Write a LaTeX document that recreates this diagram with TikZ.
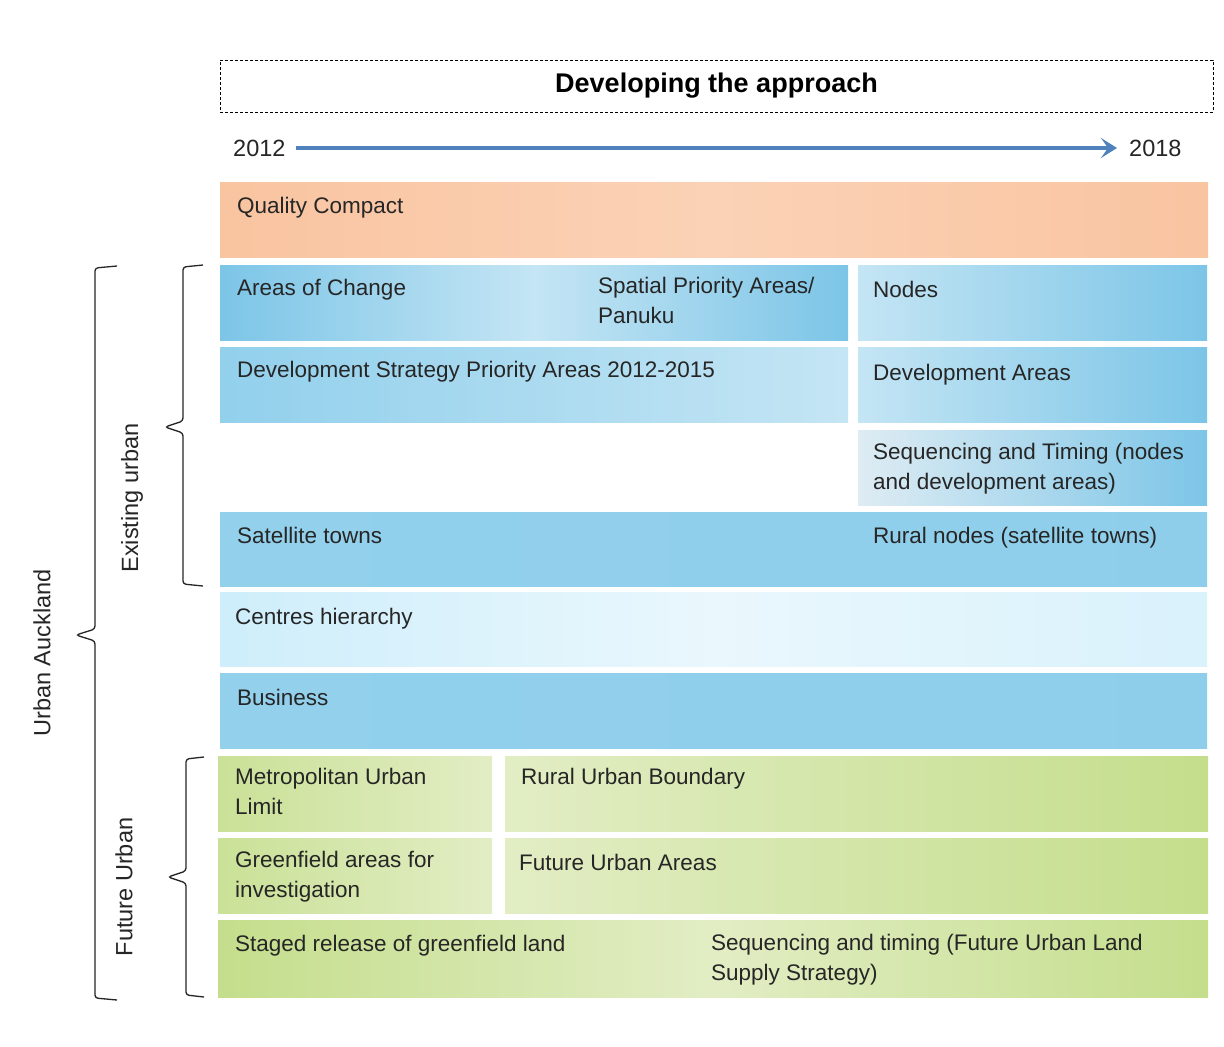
\documentclass[tikz,border=0pt]{standalone}
\usepackage{fontspec}
\setmainfont{Liberation Sans}
\usetikzlibrary{arrows.meta}
\definecolor{peachD}{RGB}{249,196,160}
\definecolor{peachL}{RGB}{251,210,182}
\definecolor{blueD}{RGB}{124,197,231}
\definecolor{blueM}{RGB}{146,208,236}
\definecolor{blueL}{RGB}{196,229,244}
\definecolor{greyL}{RGB}{222,236,243}
\definecolor{cyanL}{RGB}{206,238,251}
\definecolor{cyanW}{RGB}{234,247,253}
\definecolor{greenD}{RGB}{196,222,140}
\definecolor{greenL}{RGB}{226,237,196}
\definecolor{timeblue}{RGB}{79,129,189}
\tikzstyle{band}=[rectangle,inner sep=0pt,anchor=north west]
\tikzstyle{txt}=[inner sep=0pt,anchor=north west,align=left,text=black!85,font=\fontsize{22.5}{30}\selectfont]
\tikzstyle{side}=[inner sep=0pt,rotate=90,text=black!85,font=\fontsize{23.5}{28}\selectfont]
\tikzstyle{brk}=[line width=1.3pt,rounded corners=3pt,black!85]
\begin{document}
\begin{tikzpicture}[x=1pt,y=-1pt]
\fill[white] (0,0) rectangle (1224,1047);
\useasboundingbox (0,0) rectangle (1224,1047);

\node[draw,dash pattern=on 3pt off 2pt,line width=1pt,minimum width=993,minimum height=52,inner sep=0pt,font=\bfseries\fontsize{27}{32}\selectfont] (title) at (716.5,86) {Developing the approach};

\node[txt,anchor=west,font=\fontsize{23.5}{28}\selectfont] (y12) at (233,148) {2012};
\node[txt,anchor=west,font=\fontsize{23.5}{28}\selectfont] (y18) at (1129,148) {2018};
\draw[timeblue,line width=3.2pt,shorten <=10pt,shorten >=12pt,-{Stealth[length=16pt,width=20pt,inset=7pt]}] (y12) -- (y18);

\node[band,left color=peachD,right color=peachD,middle color=peachL,minimum width=988,minimum height=75] (qc) at (220,182) {};
\node[band,left color=blueD,right color=blueD,middle color=blueL,minimum width=628,minimum height=75] (aoc) at (220,265) {};
\node[band,left color=blueL,right color=blueD,minimum width=349,minimum height=75] (nod) at (858,265) {};
\node[band,left color=blueM,right color=blueL,minimum width=628,minimum height=75] (dsp) at (220,347) {};
\node[band,left color=blueL,right color=blueD,minimum width=349,minimum height=75] (dva) at (858,347) {};
\node[band,left color=greyL,right color=blueD,minimum width=349,minimum height=75] (seq) at (858,430) {};
\node[band,left color=blueM,right color=blueM!85!blueD,minimum width=987,minimum height=74] (sat) at (220,512) {};
\node[band,left color=cyanL,right color=cyanL!60!cyanW,middle color=cyanW,minimum width=987,minimum height=74] (cen) at (220,592) {};
\node[band,left color=blueM,right color=blueM!85!blueD,minimum width=987,minimum height=75] (bus) at (220,673) {};
\node[band,left color=greenD!80!greenL,right color=greenL,minimum width=274,minimum height=75] (mul) at (218,756) {};
\node[band,left color=greenL,right color=greenD,minimum width=703,minimum height=75] (rub) at (505,756) {};
\node[band,left color=greenD!80!greenL,right color=greenL,minimum width=274,minimum height=75] (gai) at (218,838) {};
\node[band,left color=greenL,right color=greenD,minimum width=703,minimum height=75] (fua) at (505,838) {};
\node[band,left color=greenD,right color=greenD,middle color=greenL,minimum width=990,minimum height=77] (srg) at (218,920) {};

\node[txt] (qct) at (237,197) {Quality Compact};
\node[txt] (aoct) at (237,279) {Areas of Change};
\node[txt] (spa) at (598,277) {Spatial Priority Areas/\\Panuku};
\node[txt] (nodt) at (873,281) {Nodes};
\node[txt] (dspt) at (237,361) {Development Strategy Priority Areas 2012-2015};
\node[txt] (dvat) at (873,364) {Development Areas};
\node[txt] (seqt) at (873,443) {Sequencing and Timing (nodes\\and development areas)};
\node[txt] (satt) at (237,527) {Satellite towns};
\node[txt] (rnt) at (873,527) {Rural nodes (satellite towns)};
\node[txt] (cent) at (235,608) {Centres hierarchy};
\node[txt] (bust) at (237,689) {Business};
\node[txt] (mult) at (235,768) {Metropolitan Urban\\Limit};
\node[txt] (rubt) at (521,768) {Rural Urban Boundary};
\node[txt] (gait) at (235,851) {Greenfield areas for\\investigation};
\node[txt] (fuat) at (519,854) {Future Urban Areas};
\node[txt] (srgt) at (235,935) {Staged release of greenfield land};
\node[txt] (fls) at (711,934) {Sequencing and timing (Future Urban Land\\Supply Strategy)};

\draw[brk] (117,266) -- (95,268) -- (95,629) -- (76,635) -- (95,641) -- (95,998) -- (117,1000);
\draw[brk] (203,265) -- (183,267) -- (183,421) -- (165,427) -- (183,433) -- (183,584) -- (203,586);
\draw[brk] (204,757) -- (186,759) -- (186,871) -- (168,877) -- (186,883) -- (186,995) -- (204,997);

\node[side] (ua) at (42,653) {Urban Auckland};
\node[side] (eu) at (132,498) {Existing urban};
\node[side] (fu) at (124,887) {Future Urban};

\end{tikzpicture}
\end{document}
